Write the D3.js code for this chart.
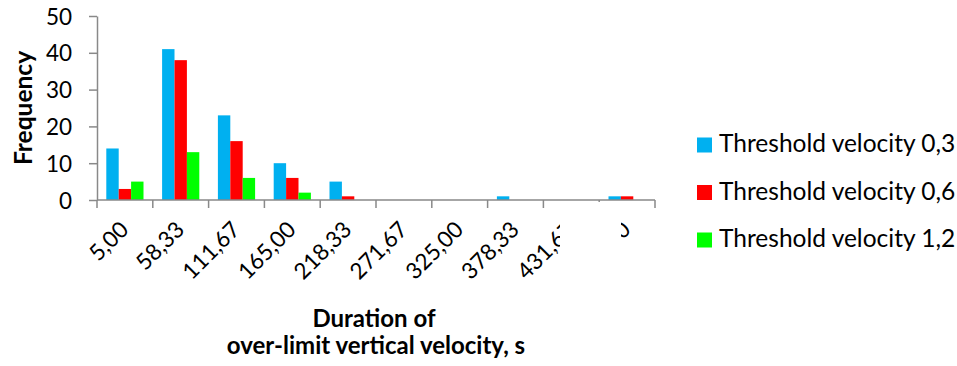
<!DOCTYPE html>
<html>
<head>
<meta charset="utf-8">
<script src="https://cdn.jsdelivr.net/npm/d3@7"></script>
<style>
  body { margin: 0; background: #fff; }
  svg { display: block; }
  text { font-family: Lato, "Open Sans", sans-serif; fill: #000; }
</style>
</head>
<body>
<script>
// data
var categories = ["5,00", "58,33", "111,67", "165,00", "218,33", "271,67", "325,00", "378,33", "431,67", "485,00"];
var seriesNames = ["Threshold velocity 0,3", "Threshold velocity 0,6", "Threshold velocity 1,2"];
var v03 = [14, 41, 23, 10, 5, 0, 0, 1, 0, 1];
var v06 = [3, 38, 16, 6, 1, 0, 0, 0, 0, 1];
var v12 = [5, 13, 6, 2, 0, 0, 0, 0, 0, 0];
var yTicks = [0, 10, 20, 30, 40, 50];
var colors = ["#00b0f0", "#ff0000", "#00ff00"];

var W = 957, H = 366;
var margin = {left: 97, top: 16, right: 302, bottom: 166},
    width = W - margin.left - margin.right,
    height = H - margin.top - margin.bottom;

var root = d3.select("body").append("svg")
    .attr("width", W)
    .attr("height", H);

// white patch over part of the tick labels, as in the picture
// (coords are local to the x axis group)
var defs = root.append("defs");
var clip = defs.append("clipPath").attr("id", "labclip");
clip.append("rect").attr("x", -margin.left).attr("y", -H).attr("width", 560).attr("height", 2 * H);
clip.append("rect").attr("x", 621 - margin.left).attr("y", -H).attr("width", 400).attr("height", 2 * H);
clip.append("rect").attr("x", -margin.left).attr("y", -H).attr("width", W).attr("height", H + 2);

var svg = root.append("g")
    .attr("transform", "translate(" + margin.left + "," + margin.top + ")");

var table = categories.map(function(c, i) {
    return {cat: c, values: [v03[i], v06[i], v12[i]]};
});

var xScale = d3.scaleBand()
    .domain(categories)
    .range([0, width]);
var bw = xScale.bandwidth();
var barW = bw / 4.5;   // gap width 150%
var xSub = d3.scaleBand()
    .domain([0, 1, 2])
    .range([barW * 0.75, barW * 3.75]);
var yScale = d3.scaleLinear()
    .domain([0, 50])
    .range([height, 0]);

// bars
var groups = svg.selectAll(".grp")
    .data(table)
    .enter().append("g")
        .attr("class", "grp")
        .attr("transform", d => "translate(" + xScale(d.cat) + ",0)");
groups.selectAll("rect")
    .data(d => d.values.map((v, k) => ({k: k, v: v})))
    .enter().append("rect")
        .attr("x", d => xSub(d.k))
        .attr("y", d => yScale(d.v))
        .attr("width", xSub.bandwidth())
        .attr("height", d => height - yScale(d.v))
        .style("fill", d => colors[d.k]);

// y axis
var yAxis = svg.append("g")
    .call(d3.axisLeft(yScale).tickValues(yTicks).tickSize(8).tickPadding(17).tickSizeOuter(0));
yAxis.selectAll("line, path").attr("stroke", "#898989").attr("stroke-width", 1.5);
yAxis.selectAll("text").style("font-size", "22.5px").attr("dy", "0.36em");

// x axis: ticks sit between categories
var xAxis = svg.append("g")
    .attr("transform", "translate(0," + height + ")")
    .attr("clip-path", "url(#labclip)");
xAxis.append("line")
    .attr("x1", 0).attr("x2", width)
    .attr("stroke", "#898989").attr("stroke-width", 1.5);
var edges = categories.map(c => xScale(c)).concat([width]);
xAxis.selectAll(".tk")
    .data(edges)
    .enter().append("line")
        .attr("class", "tk")
        .attr("x1", d => d).attr("x2", d => d)
        .attr("y1", 0).attr("y2", 8)
        .attr("stroke", "#898989").attr("stroke-width", 1.5);
xAxis.selectAll(".lab")
    .data(categories)
    .enter().append("text")
        .attr("class", "lab")
        .attr("text-anchor", "end")
        .attr("transform", d => "translate(" + (xScale(d) + bw / 2 + 5) + ",31) rotate(-45)")
        .style("font-size", "22.5px")
        .text(d => d);

// axis titles
root.append("text")
    .attr("transform", "translate(32,108) rotate(-90)")
    .attr("text-anchor", "middle")
    .style("font-size", "24.5px")
    .style("font-weight", "bold")
    .text("Frequency");
var xTitle = root.append("text")
    .attr("text-anchor", "middle")
    .style("font-size", "24px")
    .style("font-weight", "bold");
xTitle.append("tspan")
    .attr("x", 374).attr("y", 327)
    .text("Duration of");
xTitle.append("tspan")
    .attr("x", 376).attr("y", 354)
    .text("over-limit vertical velocity, s");

// legend
var legend = root.selectAll(".legend")
    .data(seriesNames)
    .enter().append("g")
        .attr("class", "legend")
        .attr("transform", (d, i) => "translate(697," + (145 + i * 47.5) + ")");
legend.append("rect")
    .attr("x", 0).attr("y", -7.5)
    .attr("width", 15).attr("height", 15)
    .style("fill", (d, i) => colors[i]);
legend.append("text")
    .attr("x", 22).attr("dy", "0.3em")
    .style("font-size", "24.5px")
    .text(d => d);
</script>
</body>
</html>
